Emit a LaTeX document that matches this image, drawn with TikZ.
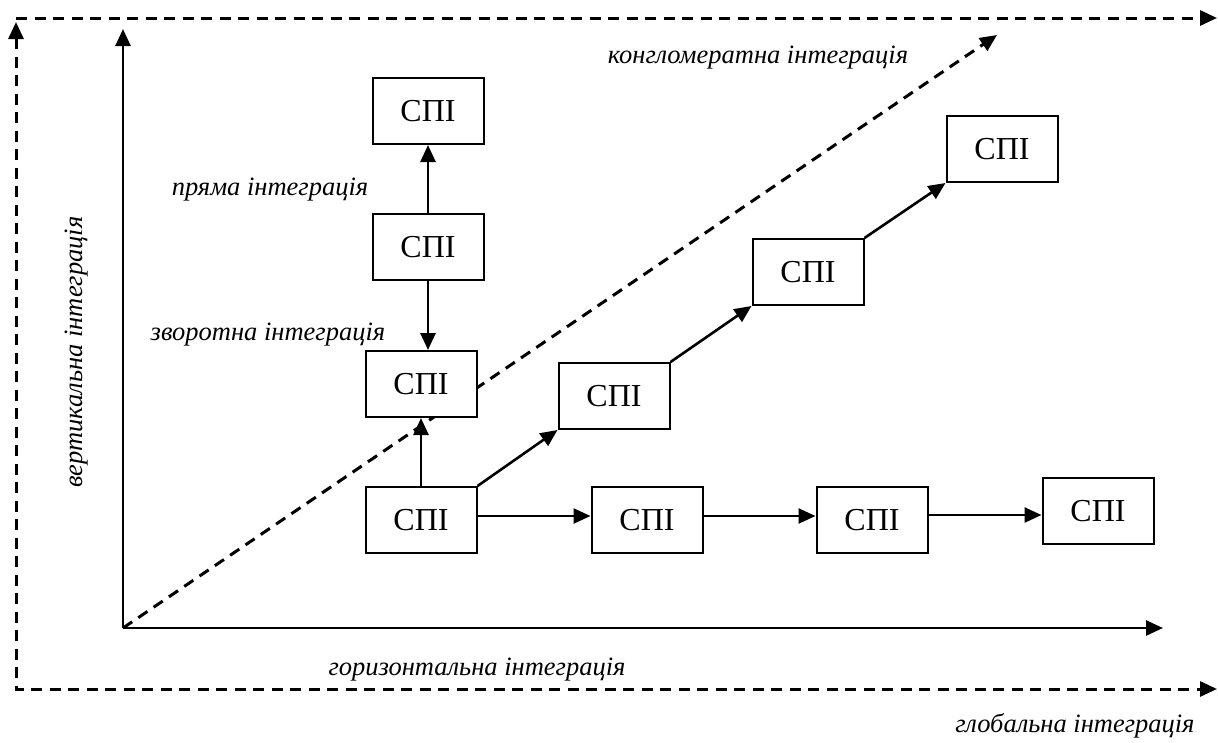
\documentclass[tikz,border=0pt]{standalone}
\usepackage{fontspec}
\setmainfont{Liberation Serif}
\usetikzlibrary{arrows.meta}
\begin{document}
\begin{tikzpicture}[x=1pt,y=-1pt,
  box/.style={draw, fill=white, line width=2pt, minimum width=111pt, minimum height=66pt, inner sep=0pt, font=\fontsize{32}{34}\selectfont},
  tip/.style={-{Triangle[length=17pt,width=15pt]}},
  conn/.style={line width=2.6pt, tip},
  dsh/.style={line width=3pt, dash pattern=on 11pt off 7.5pt},
  lbl/.style={font=\itshape\fontsize{26.5}{28}\selectfont, inner sep=0pt}]
\useasboundingbox (0,0) rectangle (1218,742);

% dashed frame
\coordinate (tl) at (16,22);
\coordinate (bl) at (16,689);
\coordinate (br) at (1217,689);
\coordinate (ttl) at (16,18);
\coordinate (ttr) at (1217,18);
\draw[dsh, {Triangle[length=17pt,width=15pt]}-{Triangle[length=17pt,width=15pt]}] (tl) -- (bl) -- (br);
\draw[dsh, tip] (ttl) -- (ttr);

% axes
\coordinate (O) at (123,628);
\coordinate (ytop) at (123,29);
\coordinate (xend) at (1163,628);
\coordinate (dend) at (997,35);
\draw[dsh, tip] (O) -- (dend);
\draw[conn] (O) -- (ytop);
\draw[conn] (O) -- (xend);

% boxes
\node[box] (b1) at (428,111) {СПІ};
\node[box] (b2) at (428,247) {СПІ};
\node[box] (b3) at (421,384) {СПІ};
\node[box] (b4) at (421,520) {СПІ};
\node[box] (b5) at (614,396) {СПІ};
\node[box] (b6) at (808,272) {СПІ};
\node[box] (b7) at (1002,149) {СПІ};
\node[box] (b8) at (647,520) {СПІ};
\node[box] (b9) at (872,520) {СПІ};
\node[box] (b10) at (1098,511) {СПІ};

% connectors
\draw[conn] (b2.north) -- (b1.south);
\draw[conn] (b2.south) -- (b2.south |- b3.north);
\draw[conn] (b4.north) -- (b3.south);
\draw[conn] (b4.north east) -- (b5.south west);
\draw[conn] (b5.north east) -- (b6.south west);
\draw[conn] (b6.north east) -- (b7.south west);
\draw[conn] ([yshift=4pt]b4.east) -- ([yshift=4pt]b8.west);
\draw[conn] ([yshift=4pt]b8.east) -- ([yshift=4pt]b9.west);
\draw[conn] ([yshift=5pt]b9.east) -- ([yshift=5pt]b9.east -| b10.west);

% labels
\node[lbl] (lk) at (758,58) {конгломератна інтеграція};
\node[lbl] (lp) at (270,190) {пряма інтеграція};
\node[lbl] (lz) at (268,335) {зворотна інтеграція};
\node[lbl, rotate=90] (lv) at (77,352) {вертикальна інтеграція};
\node[lbl] (lh) at (477,670) {горизонтальна інтеграція};
\node[lbl] (lg) at (1075,726) {глобальна інтеграція};
\end{tikzpicture}
\end{document}
